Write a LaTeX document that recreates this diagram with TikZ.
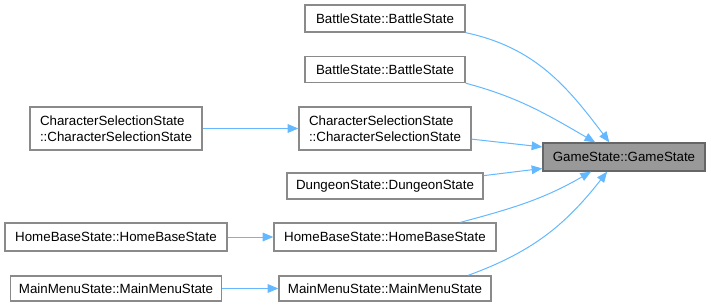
\documentclass[tikz,border=0pt]{standalone}
\usepackage{fontspec}
\setmainfont{Liberation Sans}
\usepackage{tikz}
\usetikzlibrary{arrows.meta}

\definecolor{edgeblue}{HTML}{63B8FF}
\definecolor{boxgray}{HTML}{999999}
\definecolor{rootgray}{HTML}{666666}

\begin{document}
\begin{tikzpicture}[x=0.75pt, y=-0.75pt,
	fn/.style={draw=boxgray!90!black, line width=1pt, fill=white, inner sep=0pt, font=\fontsize{10}{12}\selectfont, align=left},
	root/.style={fn, draw=rootgray, fill=boxgray, align=center},
	edge/.style={draw=edgeblue, line width=0.75pt, -{Triangle[length=8pt, width=6.5pt]}}]

	\useasboundingbox (0,0) rectangle (711,307);

	\node[root, minimum width=121.5pt, minimum height=21pt] (gs) at (624,157) {GameState::GameState};

	\node[fn, minimum width=120pt, minimum height=20.25pt] (b1) at (385,18.5) {BattleState::BattleState};
	\node[fn, minimum width=120pt, minimum height=19.5pt] (b2) at (385,69.5) {BattleState::BattleState};
	\node[fn, minimum width=129pt, minimum height=32.25pt] (cs2) at (385,128.5) {CharacterSelectionState\\::CharacterSelectionState};
	\node[fn, minimum width=147pt, minimum height=19.5pt] (dg) at (385,186) {DungeonState::DungeonState};
	\node[fn, minimum width=166.5pt, minimum height=21pt] (hb2) at (385,237) {HomeBaseState::HomeBaseState};
	\node[fn, minimum width=159pt, minimum height=18.75pt] (mm2) at (385,288.5) {MainMenuState::MainMenuState};

	\node[fn, minimum width=129pt, minimum height=32.25pt] (cs1) at (116,128.5) {CharacterSelectionState\\::CharacterSelectionState};
	\node[fn, minimum width=166.5pt, minimum height=21pt] (hb1) at (116,237) {HomeBaseState::HomeBaseState};
	\node[fn, minimum width=158.25pt, minimum height=18.75pt] (mm1) at (116,288.5) {MainMenuState::MainMenuState};


	\draw[edge] (b1.south east) to[out=-12, in=127] (gs.135);
	\draw[edge] (b2.south east) to[out=-15, in=150] (gs.153);
	\draw[edge] (cs2.-7) -- (gs.173);
	\draw[edge] (dg.6) -- (gs.188);
	\draw[edge] (hb2.11) to[out=15, in=-150] (gs.204);
	\draw[edge] (mm2.9) to[out=20, in=-128] (gs.221);

	\foreach \a/\b in {cs1/cs2, hb1/hb2, mm1/mm2}
		\draw[edge] (\a) -- (\b);


\end{tikzpicture}
\end{document}
